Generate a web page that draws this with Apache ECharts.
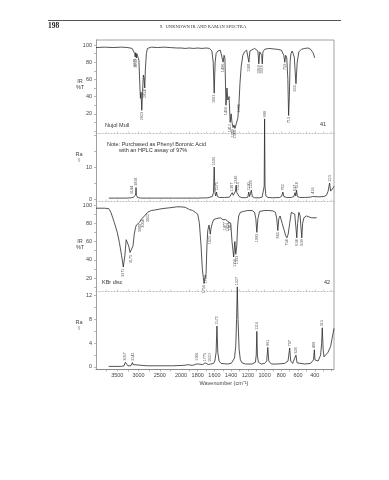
<!DOCTYPE html>
<html><head><meta charset="utf-8">
<script src="https://cdn.jsdelivr.net/npm/echarts@6/dist/echarts.min.js"></script>
<style>html,body{margin:0;padding:0;background:#fff}#c{width:389px;height:480px}</style>
</head><body><div id="c"></div>
<script>
// ---------- DATA ----------
// Panel 1: IR, Nujol mull (%T)
const irNujolWn = [4000,3800,3600,3400,3250,3150,3110,3090,3078,3068,3058,3050,3040,3015,2990,2970,2954,2940,2923,2905,2885,2870,2853,2838,2815,2790,2700,2550,2400,2250,2100,2000,1950,1900,1850,1800,1750,1700,1660,1630,1615,1603,1592,1580,1560,1530,1510,1496,1485,1475,1462,1450,1440,1425,1412,1400,1390,1377,1366,1355,1340,1320,1306,1295,1280,1260,1240,1215,1200,1188,1176,1160,1120,1100,1080,1069,1058,1045,1035,1028,1020,1000,950,900,850,800,780,770,759,748,735,722,713,704,695,685,670,655,645,635,625,610,590,560,520,480,450,420,400];
const irNujolT = [97,97.5,97,97.5,97,96,94,90,86,91,89,85,90,89,82,55,38,45,24,45,65,62,50,72,90,96,97.5,97,97.5,97,96.5,96.5,96,96.5,96,96.5,96,96.5,96,93,80,44,80,90,93,94,92,80,88,85,30,50,36,40,10,20,10,4,7,3,5,15,33,55,75,88,92,94,93,80,93,95,96,95,93,78,92,93,88,78,92,95,96,95.5,95,94,92,88,80,88,85,60,18,40,80,90,93,92,86,70,55,80,92,95,96,96.5,95,91,85];
const irNujolPeakWn = [3078,3050,2923,2853,1603,1496,1462,1412,1377,1355,1306,1188,1069,1028,759,713,635];
const irNujolPeakT  = [86,85,24,50,44,80,30,10,4,3,33,80,78,78,80,18,55];
const irNujolPeakText = ['3078','3050','2923','2854','1603','1496','1456','1412','1380','1366','1306','1188','1069','1028','759','713','635'];

// Panel 2: Raman, Nujol mull
const ramNujolWn = [3700,3300,3180,3160,3144,3128,3090,3072,3064,3058,3050,3040,3020,2950,2600,2200,2000,1800,1680,1625,1612,1603,1594,1585,1575,1565,1540,1480,1420,1400,1387,1375,1360,1348,1341,1332,1323,1315,1305,1280,1230,1200,1190,1180,1168,1158,1148,1120,1060,1030,1015,1005,1000,995,985,960,900,820,795,782,770,740,680,650,637,628,618,608,580,520,450,425,416,405,350,290,260,240,223,210,195,180,170];
const ramNujolI = [0.3,0.3,0.4,0.6,1.0,0.5,0.6,1.2,2,3.6,1.2,0.8,0.5,0.3,0.3,0.3,0.3,0.3,0.4,0.8,2,10,2,1,2.2,0.8,0.5,0.5,0.6,0.9,2,1.2,1.5,2.5,4.3,2,1.5,2.2,0.8,0.5,0.4,0.6,2.2,0.8,1,2.8,0.8,0.4,0.4,0.6,1.2,4,25,4,1,0.5,0.4,0.5,0.9,2.2,0.8,0.5,0.5,0.8,2,1,2.8,0.8,0.5,0.5,0.6,0.8,1.2,0.7,0.7,0.8,1.2,2.5,5,2.5,3,3.5,4];
const ramNujolPeakWn = [3144,3058,1603,1575,1387,1341,1315,1190,1158,1000,782,637,618,416,223];
const ramNujolPeakI  = [1.0,3.6,10,2.2,2,4.3,2.2,2.2,2.8,25,2.2,2,2.8,1.2,5];
const ramNujolPeakText = ['3144','3058','1603','1575','1387','1341','1315','1190','1158','999','782','637','618','416','223'];

// Panel 3: IR, KBr disc (%T)
const irKbrWn = [4000,3800,3700,3650,3570,3500,3450,3400,3357,3320,3290,3261,3230,3200,3166,3130,3100,3071,3050,3030,2976,2940,2904,2860,2785,2700,2619,2450,2262,2100,2000,1950,1900,1860,1830,1800,1780,1760,1745,1725,1710,1700,1690,1680,1665,1650,1640,1625,1610,1595,1580,1560,1530,1500,1490,1477,1465,1450,1439,1430,1417,1405,1390,1370,1356,1345,1333,1322,1310,1290,1250,1200,1150,1120,1105,1093,1080,1060,1000,950,900,870,855,842,830,815,790,765,750,734,718,700,680,660,640,625,615,605,590,575,565,555,545,530,500,470,440,410,390,376];
const irKbrT = [96.5,96.5,96,92,81,70,59,45,32,45,62,63,55,48,47,55,68,75,78,80,81,84,86,88,92,94,94.5,96,97,98,98,97.5,95,94,92,90,80,55,30,14,13,25,55,72,78,68,75,80,84,85,85,86,86,84,84,83,84,84,82,84,83,80,60,43,60,46,55,78,88,92,93,94,94,92,85,70,85,93,94,94,93.5,92,85,72,85,88,80,72,67,64,68,80,92,94,90,75,64,80,92,88,75,64,80,86,88,87,86,86,86,86];
const irKbrPeakWn = [3357,3166,2976,2904,2785,1725,1700,1650,1477,1439,1417,1356,1333,1093,842,734,615,555];
const irKbrPeakT  = [32,47,81,86,92,14,25,68,83,82,83,43,46,70,72,64,64,64];
const irKbrPeakText = ['3371','3175','3080','3054','3022','1756','1700','1625','1477','1439','1417','1356','1333','1093','865','754','634','609'];

// Panel 4: Raman, KBr disc
const ramKbrWn = [3700,3400,3340,3320,3309,3295,3250,3180,3155,3142,3130,3100,2800,2200,2000,1950,1916,1890,1850,1820,1808,1795,1740,1725,1713,1700,1670,1660,1654,1645,1610,1595,1580,1570,1560,1545,1520,1450,1400,1380,1360,1345,1335,1327,1318,1305,1290,1270,1230,1150,1110,1100,1093,1086,1075,1040,1000,975,962,950,920,850,760,720,700,688,680,665,645,625,612,590,520,450,415,405,398,385,360,330,318,310,300,290,270,240,210,190,170];
const ramKbrI = [0.1,0.1,0.2,0.5,0.8,0.5,0.2,0.2,0.4,0.75,0.4,0.2,0.2,0.2,0.25,0.3,0.4,0.3,0.3,0.5,0.8,0.5,0.4,0.5,0.7,0.5,0.4,0.5,0.6,0.5,0.6,1,2.5,6.9,2.5,1,0.6,0.5,0.6,0.8,1.5,3.5,8,13.5,8,3,1.2,0.7,0.5,0.5,0.8,2,6,2,0.8,0.5,0.6,1,3.3,1,0.5,0.5,0.6,1.0,3.2,1.0,0.7,0.6,0.8,2.0,0.7,0.5,0.5,0.6,1.2,2.9,1.2,0.9,1.0,2.0,4,6.6,3,1.7,1.8,2.5,3.5,5,6.5];
const ramKbrPeakWn = [3309,3142,1808,1713,1654,1570,1327,1093,962,700,625,405,310];
const ramKbrPeakI  = [0.8,0.75,0.8,0.7,0.6,6.9,13.5,6,3.3,3.2,2.0,2.9,6.6];
const ramKbrPeakText = ['3057','3142','1991','1775','1620','1572','1327','1116','961','707','628','409','315'];

// Axis ticks / labels
const xTickLabelsHigh = [3500,3000,2500];
const xTickLabelsLow = [2000,1800,1600,1400,1200,1000,800,600,400];
const irYLabels = [20,40,60,80,100];
const ram1YLabels = [0,10];
const ram2YLabels = [0,4,8,12];

// ---------- CHECK ----------
[[irNujolWn,irNujolT],[ramNujolWn,ramNujolI],[irKbrWn,irKbrT],[ramKbrWn,ramKbrI]].forEach((p,i)=>{
  if(p[0].length!==p[1].length) throw new Error('length mismatch panel '+i+': '+p[0].length+' vs '+p[1].length);
});

// ---------- LAYOUT ----------
const X0 = 96, XS = 181, X1 = 334;
const panels = [
  {top:40, bottom:133, min:-2.3, max:105.8, wn:irNujolWn, v:irNujolT, pw:irNujolPeakWn, pv:irNujolPeakT, pt:irNujolPeakText, up:false, labels:irYLabels, ticks:[0,10,20,30,40,50,60,70,80,90,100]},
  {top:133, bottom:201, min:-0.6, max:20.6, wn:ramNujolWn, v:ramNujolI, pw:ramNujolPeakWn, pv:ramNujolPeakI, pt:ramNujolPeakText, up:true, labels:ram1YLabels, ticks:[0,5,10,15,20]},
  {top:201, bottom:291, min:5.75, max:104.4, wn:irKbrWn, v:irKbrT, pw:irKbrPeakWn, pv:irKbrPeakT, pt:irKbrPeakText, up:false, labels:irYLabels, ticks:[10,20,30,40,50,60,70,80,90,100]},
  {top:291, bottom:369, min:-0.34, max:12.8, wn:ramKbrWn, v:ramKbrI, pw:ramKbrPeakWn, pv:ramKbrPeakI, pt:ramKbrPeakText, up:true, labels:ram2YLabels, ticks:[0,2,4,6,8,10,12]}
];
const xMinLow = 170, xSplit = 2000, xMaxHigh = 4000;

const grid=[], xAxis=[], yAxis=[], series=[];
const txt = '#444', axc = '#8a8a8a', FONT = 'Liberation Sans, Arial, sans-serif';
const plain = v => String(v);

panels.forEach((p,pi)=>{
  const h = p.bottom - p.top;
  const last = pi===3;
  for (let s=0;s<2;s++){
    const gi = pi*2+s;
    grid.push({left: s? XS : X0, top: p.top, width: s? (X1-XS):(XS-X0), height: h, containLabel:false});
    xAxis.push({
      type:'value', gridIndex:gi, inverse:true,
      min: s? xMinLow : xSplit, max: s? xSplit : xMaxHigh,
      position:'bottom',
      axisLine:{show:true, onZero:false, lineStyle:{color: last? axc : '#a8a8a8', width: last?1:0.8, type: last?'solid':[1,2]}},
      axisTick:{show:true, length: last?2.5:1.5, inside:!last, lineStyle:{color: last?axc:'#b0b0b0', width:0.6},
        customValues: s? [200,300,400,500,600,700,800,900,1000,1100,1200,1300,1400,1500,1600,1700,1800,1900]:[2250,2500,2750,3000,3250,3500,3750]},
      axisLabel:{show:last, fontSize:5.5, color:txt, fontFamily:FONT, margin:3, formatter:plain,
        customValues: s? xTickLabelsLow : xTickLabelsHigh},
      splitLine:{show:false}
    });
    yAxis.push({
      type:'value', gridIndex:gi, min:p.min, max:p.max, show: s===0,
      axisLine:{show:true, lineStyle:{color:axc, width:0.8}},
      axisTick:{show:true, length:2, lineStyle:{color:axc, width:0.6}, customValues:p.ticks},
      axisLabel:{fontSize:5.5, color:txt, fontFamily:FONT, margin:4, formatter:plain, customValues:p.labels},
      splitLine:{show:false}
    });
    const pts=[];
    p.wn.forEach((w,i)=>{ if (s? w<=xSplit : w>=xSplit) pts.push([w,p.v[i]]); });
    series.push({type:'line', xAxisIndex:gi, yAxisIndex:gi, data:pts, showSymbol:false, symbol:'none',
      clip:false, silent:true, animation:false,
      lineStyle:{color:'#2a2a2a', width:0.8}});
    const lab=[];
    p.pw.forEach((w,i)=>{ if (s? w<xSplit : w>=xSplit) lab.push({value:[w,p.pv[i]], name:p.pt[i]}); });
    series.push({type:'scatter', xAxisIndex:gi, yAxisIndex:gi, data:lab, symbolSize:0, clip:false, silent:true, animation:false,
      label:{show:true, formatter:'{b}', rotate:90, fontSize:3.8, color:'#333', fontFamily:FONT,
        position: p.up? 'top':'bottom', distance:1.5, align: p.up? 'left':'right', verticalAlign:'middle'}});
  }
});

const graphic = [
  {type:'line', shape:{x1:48,y1:20.5,x2:341,y2:20.5}, style:{stroke:'#555', lineWidth:1.2}},
  {type:'text', left:48, top:22, style:{text:'198', fontSize:7.5, fontFamily:'Liberation Serif, serif', fill:'#222', fontWeight:'bold'}},
  {type:'text', x:203, y:27, style:{text:'9.  UNKNOWN IR AND RAMAN SPECTRA', fontSize:4.6, fontFamily:'Liberation Serif, serif', fill:'#333', align:'center', verticalAlign:'middle'}},
  {type:'line', shape:{x1:X0,y1:40,x2:X1,y2:40}, style:{stroke:axc, lineWidth:0.8}},
  {type:'line', shape:{x1:X1,y1:40,x2:X1,y2:369}, style:{stroke:axc, lineWidth:0.8}},
  {type:'text', x:80, y:84.5, style:{text:'IR\n%T', fontSize:5.5, lineHeight:6, fontFamily:FONT, fill:txt, align:'center', verticalAlign:'middle'}},
  {type:'text', x:79, y:157, style:{text:'Ra\nI', fontSize:5.5, lineHeight:6, fontFamily:FONT, fill:txt, align:'center', verticalAlign:'middle'}},
  {type:'text', x:80, y:244.5, style:{text:'IR\n%T', fontSize:5.5, lineHeight:6, fontFamily:FONT, fill:txt, align:'center', verticalAlign:'middle'}},
  {type:'text', x:79, y:325, style:{text:'Ra\nI', fontSize:5.5, lineHeight:6, fontFamily:FONT, fill:txt, align:'center', verticalAlign:'middle'}},
  {type:'text', x:105, y:125, style:{text:'Nujol Mull', fontSize:5.5, fontFamily:FONT, fill:'#333', verticalAlign:'middle'}},
  {type:'text', x:320, y:124, style:{text:'41', fontSize:5.5, fontFamily:FONT, fill:'#333', verticalAlign:'middle'}},
  {type:'text', x:107, y:144, style:{text:'Note: Purchased as Phenyl Boronic Acid', fontSize:5.5, fontFamily:FONT, fill:'#333', verticalAlign:'middle'}},
  {type:'text', x:119, y:150, style:{text:'with an HPLC assay of 97%', fontSize:5.5, fontFamily:FONT, fill:'#333', verticalAlign:'middle'}},
  {type:'text', x:102, y:282, style:{text:'KBr disc', fontSize:5.5, fontFamily:FONT, fill:'#333', verticalAlign:'middle'}},
  {type:'text', x:324, y:282, style:{text:'42', fontSize:5.5, fontFamily:FONT, fill:'#333', verticalAlign:'middle'}},
  {type:'text', x:224, y:383, style:{text:'Wavenumber (cm\u207B\u00B9)', fontSize:5.5, fontFamily:FONT, fill:txt, align:'center', verticalAlign:'middle'}}
];

const chart = echarts.init(document.getElementById('c'), null, {renderer:'canvas'});
chart.setOption({animation:false, grid, xAxis, yAxis, series, graphic});
</script></body></html>
